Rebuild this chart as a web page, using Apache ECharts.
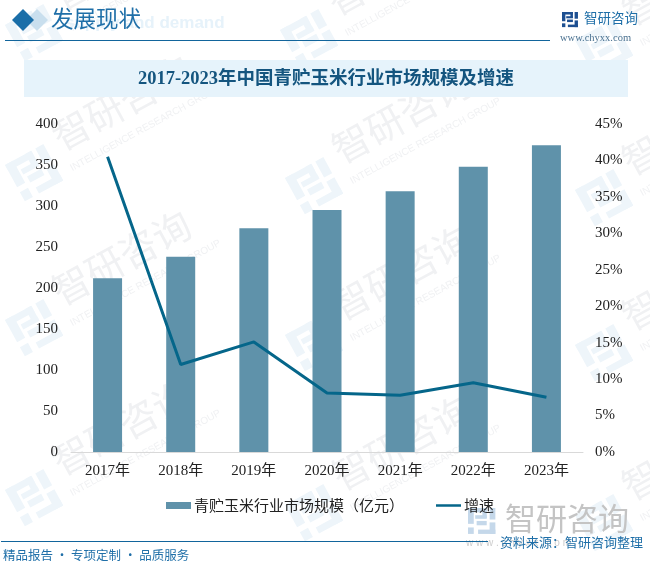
<!DOCTYPE html>
<html><head><meta charset="utf-8">
<style>html,body{margin:0;padding:0;background:#fff}#c{width:650px;height:567px}</style>
<script src="https://cdn.jsdelivr.net/npm/echarts@6/dist/echarts.min.js"></script>
</head><body><div id="c"></div>
<script>
const categories=['2017年','2018年','2019年','2020年','2021年','2022年','2023年'];
const scaleValues=[212,238,273,295,318,348,374];
const growthValues=[40.5,12.0,15.1,8.1,7.8,9.5,7.5];
const seriesNames=['青贮玉米行业市场规模（亿元）','增速'];
const titleText='2017-2023年中国青贮玉米行业市场规模及增速';
const serif='"Liberation Serif","Noto Sans CJK SC",serif';
const cjk='"Noto Sans CJK SC","Liberation Sans",sans-serif';
const logoRects=[[0,0,26,6],[0,0,8,22],[20,0,6,14],[10,10,16,5],[30,0,8,16],[12,18,14,6],[30,20,8,16],[14,30,24,6],[0,27,8,9]];
const g=[];
function logo(x,y,s,fill,rotation,z){
  return {type:'group',x,y,rotation:rotation||0,z:z,children:logoRects.map(r=>({type:'rect',z:z,shape:{x:r[0]*s,y:r[1]*s,width:r[2]*s,height:r[3]*s},style:{fill}}))};
}
const marks=[[5,25],[280,30],[575,40],[5,165],[285,178],[575,190],[5,320],[285,335],[575,345],[5,490],[285,505],[575,515]];
marks.forEach(([x,y])=>{
  const r=0.5;
  g.push(logo(x,y,1.15,'#eef5fa',r,-5));
  g.push({type:'group',x,y,rotation:r,z:-5,children:[
    {type:'text',x:56,y:-18,z:-5,style:{text:'智研咨询',font:'38px '+cjk,fill:'#f0f1f3',letterSpacing:4}},
    {type:'text',x:56,y:30,z:-5,style:{text:'INTELLIGENCE RESEARCH GROUP',font:'10px "Liberation Sans"',fill:'#f0f1f3'}}
  ]});
});
// header
g.push({type:'text',x:65,y:15,z:1,style:{text:'supply and demand',font:'bold 17px "Liberation Sans"',fill:'#e6f2fa'}});
g.push({type:'polygon',z:1,shape:{points:[[37,9],[48,20],[37,31],[26,20]]},style:{fill:'#c9dfee'}});
g.push({type:'polygon',z:2,shape:{points:[[23,9],[34,20],[23,31],[12,20]]},style:{fill:'#1a6ea8'}});
g.push({type:'text',x:51,y:7,z:2,style:{text:'发展现状',font:'22.5px '+cjk,fill:'#1f6fa8'}});
g.push({type:'rect',z:2,shape:{x:5,y:40,width:545,height:1},style:{fill:'#12659c'}});
// brand
g.push(logo(562,12,0.42,'#1d4f91',0,2));
g.push({type:'text',x:584,y:11,z:2,style:{text:'智研咨询',font:'13.5px '+cjk,fill:'#1f6fa8'}});
g.push({type:'text',x:560,y:33,z:2,style:{text:'www.chyxx.com',font:'10.5px "Liberation Serif"',fill:'#4a7190',letterSpacing:0.5}});
// title band
g.push({type:'rect',z:1,shape:{x:24,y:60,width:604,height:37},style:{fill:'#e6f3fb'}});
g.push({type:'text',x:326,y:79,z:2,style:{text:titleText,font:'bold 18.5px '+serif,fill:'#14557f',align:'center',verticalAlign:'middle'}});
// footer
g.push({type:'rect',z:2,shape:{x:1,y:541,width:487,height:1},style:{fill:'#12659c'}});
g.push({type:'text',x:3,y:549,z:2,style:{text:'精品报告 · 专项定制 · 品质服务',font:'12.5px '+cjk,fill:'#1f6fa8'}});
g.push(logo(468,508,0.72,'#c5d8ea',0,-1));
g.push({type:'text',x:505,y:503,z:-1,style:{text:'智研咨询',font:'31px '+cjk,fill:'#c4c4c4',letterSpacing:2}});
g.push({type:'text',x:466,y:538,z:-1,style:{text:'w w w . c h y x x . c o m',font:'10px "Liberation Sans"',fill:'#cccccc'}});
g.push({type:'text',x:500,y:536,z:2,style:{text:'资料来源：智研咨询整理',font:'13px '+cjk,fill:'#1f6fa8'}});
const chart=echarts.init(document.getElementById('c'),null,{renderer:'canvas'});
const axisText={color:'#222',fontFamily:serif,fontSize:15};
chart.setOption({
  animation:false,backgroundColor:'#fff',
  graphic:{elements:g},
  grid:{left:71,right:67,top:124,bottom:115},
  legend:{left:161,top:493,itemGap:32,itemWidth:25,itemHeight:7,
    textStyle:{color:'#222',fontSize:15,fontFamily:cjk,padding:[0,0,0,-2]},
    data:[{name:seriesNames[0],icon:'rect'},{name:seriesNames[1],icon:'path://M0 0H30V3H0Z',itemStyle:{color:'#05668a'}}]},
  xAxis:{type:'category',data:categories,axisTick:{show:false},
    axisLine:{lineStyle:{color:'#d9d9d9',width:1}},
    axisLabel:{...axisText,margin:12,fontSize:15}},
  yAxis:[
    {type:'value',min:0,max:400,interval:50,axisLabel:{...axisText,margin:13},axisLine:{show:false},axisTick:{show:false},splitLine:{show:false}},
    {type:'value',min:0,max:45,interval:5,axisLabel:{...axisText,margin:12,formatter:'{value}%'},axisLine:{show:false},axisTick:{show:false},splitLine:{show:false}}
  ],
  series:[
    {name:seriesNames[0],type:'bar',data:scaleValues,barWidth:29,itemStyle:{color:'#5f92aa'}},
    {name:seriesNames[1],type:'line',yAxisIndex:1,data:growthValues,symbol:'none',lineStyle:{color:'#05668a',width:3},itemStyle:{color:'#05668a'}}
  ]
});
</script></body></html>
